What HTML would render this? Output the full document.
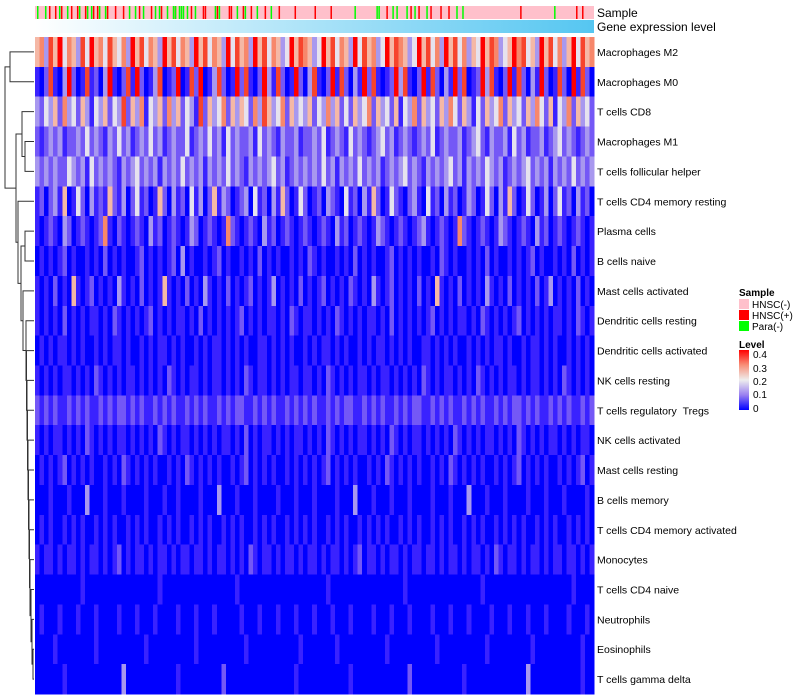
<!DOCTYPE html>
<html><head><meta charset="utf-8"><style>
body{margin:0;background:#fff;width:800px;height:700px;overflow:hidden}
svg{display:block;font-family:"Liberation Sans",sans-serif}
</style></head><body>
<svg id="chart" width="800" height="700">
<defs><linearGradient id="geneGrad" x1="0" x2="1" y1="0" y2="0"><stop offset="0" stop-color="#ffffff"/><stop offset="1" stop-color="#55c6f1"/></linearGradient>
<linearGradient id="levelGrad" x1="0" x2="0" y1="1" y2="0"><stop offset="0" stop-color="#0000ff"/><stop offset="0.25" stop-color="#9a80f0"/><stop offset="0.5" stop-color="#eeeeee"/><stop offset="0.75" stop-color="#f88f78"/><stop offset="1" stop-color="#ff0000"/></linearGradient></defs>
<g id="sampleBar"></g>
<rect x="35" y="20" width="559" height="13" fill="url(#geneGrad)"/>
<text x="597" y="17" font-size="12">Sample</text>
<text x="597" y="31" font-size="12">Gene expression level</text>
<g id="cells" shape-rendering="crispEdges"></g>
<g id="labels"></g>
<g id="dendro" stroke="#333" stroke-width="1" fill="none"></g>
<g font-size="10">
<text x="739" y="296" font-weight="bold">Sample</text>
<rect x="739" y="299" width="10" height="10" fill="#ffc0cb"/>
<text x="752" y="308">HNSC(-)</text>
<rect x="739" y="310" width="10" height="10" fill="#ff0000"/>
<text x="752" y="319">HNSC(+)</text>
<rect x="739" y="321" width="10" height="10" fill="#00ff00"/>
<text x="752" y="330">Para(-)</text>
</g>
<g font-size="10">
<text x="739" y="348" font-weight="bold">Level</text>
<rect x="739" y="350" width="10" height="60" fill="url(#levelGrad)"/>
<text x="753" y="358">0.4</text>
<text x="753" y="372">0.3</text>
<text x="753" y="385">0.2</text>
<text x="753" y="398">0.1</text>
<text x="753" y="412">0</text>
</g>
</svg>
<script>
const rowNames=["Macrophages M2","Macrophages M0","T cells CD8","Macrophages M1","T cells follicular helper","T cells CD4 memory resting","Plasma cells","B cells naive","Mast cells activated","Dendritic cells resting","Dendritic cells activated","NK cells resting","T cells regulatory\u00a0\u00a0Tregs","NK cells activated","Mast cells resting","B cells memory","T cells CD4 memory activated","Monocytes","T cells CD4 naive","Neutrophils","Eosinophils","T cells gamma delta"];
const rowLevels=[
"563758465374856475463857465385746538574653847563857465348576534857465384756348576534857463857463548576345867453857463584756",
"102710382017120381027182013701280172801372018271028317201820371028172031827101283710281720318270128371028172031820172081720",
"324352634253143524372536143526352431725346253542637534625343524363524253462534251436253425364253142534625342536425143625342",
"212323122324232132423123242312322412324231423223142321322312232412321423212342312321232412322312342132231423122312342321232",
"323232243231423232132342323132324232313232423213232342312323232423132324232312323423213232342313232432312323423231323242323",
"120231501420312152130241201520312041302513201230412031520142012032104120315201421023104120312013201420315201420130241203120",
"101210320121012610210121031201210132012101621012103120121012101210312012101321012101231012101621012101321012103120121012101",
"010101201001010201010012010101203010010120100101020101001010210100101020101001201010100102101001010201001010120100101020101",
"101020105101201010310102010151010201031010201012010130101020101201010210103101201010201051010201010310102010102013010102010",
"101010201010110102101010120101011010201010101201010110102101101010210101011010201010101201010110102101010120101010110102101",
"010101101010010101101001010110101001010110101010011010101001010110101001010110101010011010101001010101101001011010100101010",
"101010110101021010101101010102101011010110101021011010101101101021010101101011010101021010110101021010101101011010102101010",
"212121121212112121221212112121211212121121212211212121121212121121212211212121121212211212121121212112121221212112121211212",
"101011010102101010110101010210101101010101101020101101010110101021010101101010210101101010102101010110101021010101101010110",
"010101201010100101021010101001010210101010010120101010010101010120101010010102101010100101021010101001010120101010010101201",
"000100010003000100010000100010010000100030001000100001000100010000100030001000100010000100010003000100010000100010001000010",
"010100101010010101001010100101010010101001010100101010010101010010101001010101001010100101010010101001010101001010100101010",
"101101011010110101201011010110101101101011010102101101011010110101101012011010110101101101011010110102101101011010110110101",
"000000000010000000000000000100000000000000001000000000000000000010000000000000000100000000000000001000000000000000000010000",
"010001000100010000100010001000010001000100000100010001000100010001000100001000100010000100010001000010001000100010000100010",
"000010000000010000000000100000000001000000000010000000000010000000100000000001000000000010000000000100000000010000000000100",
"000000100000000000030000000000010000000002000000000000000100000000000100000000000020000000000010000000000000300000000000100"];
const sampleRed=[7,10,13,18,21,25,29,31,36,40,44,52,58,63,70,78,84,85,91,97,98,104,108,115,122,130,140,148,176,188,192,198,203,207,243,271,274];
const sampleGreen=[1,5,12,16,22,26,28,32,35,47,50,54,60,62,66,69,70,72,73,74,76,80,90,92,101,105,111,118,160,171,172,179,181,186,190,196,211,214,260];
const sampleCount=280;
// merges: [left,right,xpos] ; nodes >=22 are merged clusters
const merges=[[20,21,33],[19,22,32],[18,23,31],[17,24,30],[16,25,29.5],[15,26,29],[14,27,28.5],[13,28,28],[12,29,27.5],[11,30,27],[10,31,26.5],[9,32,26],[8,33,23],[6,7,25],[35,34,21],[5,36,18],[3,4,25],[2,38,22],[39,37,16],[0,1,10],[41,40,5]];
const palette=["#0000ff","#3a22ff","#7458f6","#a898ef","#e6e2ee","#f5b8a6","#f7876b","#f7442c","#ff0000"];
const NS="http://www.w3.org/2000/svg";
const X0=35,X1=594,Y0=37,Y1=694;
const rowH=(Y1-Y0)/rowNames.length;
function yRow(i){return Y0+i*rowH;}
function xCol(j,n){return X0+j*(X1-X0)/n;}
function mk(t,a){const e=document.createElementNS(NS,t);for(const k in a)e.setAttribute(k,a[k]);return e;}
const sb=document.getElementById('sampleBar');
const bg=mk('rect',{x:X0,y:6,width:X1-X0,height:13,fill:'#ffc0cb'});


sb.appendChild(bg);
sampleRed.forEach(c=>{const r=mk('rect',{x:xCol(c,sampleCount),y:6,width:1.5,height:13,fill:'#ff0000'});


sb.appendChild(r);});
sampleGreen.forEach(c=>{const r=mk('rect',{x:xCol(c,sampleCount),y:6,width:1.5,height:13,fill:'#00ff00'});


sb.appendChild(r);});
const cg=document.getElementById('cells');
const lg=document.getElementById('labels');
rowLevels.forEach((s,i)=>{
  const n=s.length;
  for(let j=0;j<n;j++){
    const r=mk('rect',{x:xCol(j,n),y:yRow(i),width:(X1-X0)/n+0.4,height:rowH+0.3,fill:palette[+s[j]]});
    
    
    cg.appendChild(r);
  }
  const t=mk('text',{x:597,y:yRow(i)+rowH/2+4,'font-size':10.5});
  t.textContent=rowNames[i];
  
  
  lg.appendChild(t);
});
const dg=document.getElementById('dendro');
const pos={};
for(let i=0;i<22;i++)pos[i]={x:X0-1,y:yRow(i)+rowH/2};
merges.forEach((m,k)=>{
  const a=pos[m[0]],b=pos[m[1]],x=m[2];
  const p=mk('path',{d:`M${a.x},${a.y}H${x}V${b.y}H${b.x}`});
  
  
  dg.appendChild(p);
  pos[22+k]={x:x,y:(a.y+b.y)/2};
});
</script>
</body></html>
